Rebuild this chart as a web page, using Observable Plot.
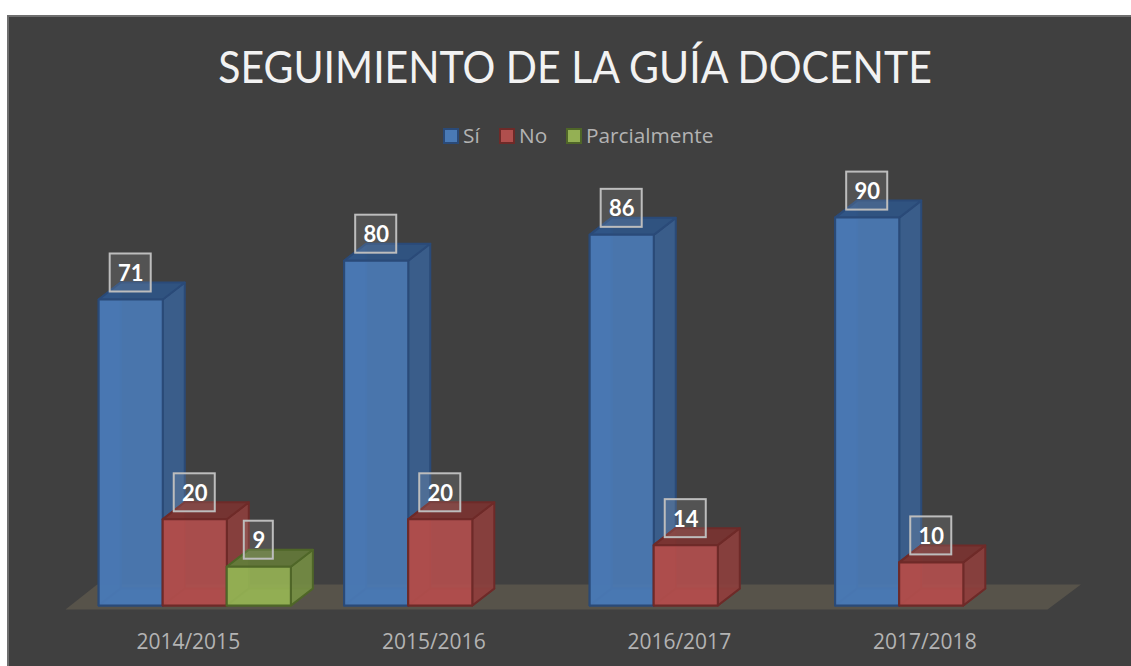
<!DOCTYPE html>
<html lang="es">
<head>
<meta charset="utf-8">
<script src="https://cdn.jsdelivr.net/npm/d3@7"></script>
<script src="https://cdn.jsdelivr.net/npm/@observablehq/plot@0.6"></script>
<style>
html,body{margin:0;padding:0;background:#fff;width:1131px;height:666px;overflow:hidden}
#panel{position:absolute;left:7px;top:15px;width:1124px;height:651px;background:#404040;border-left:2px solid #6f6f6f;border-top:2px solid #6f6f6f;box-sizing:border-box;overflow:hidden}
#title{position:absolute;left:-9px;top:19px;width:1150px;text-align:center;color:#f2f2f2;font:400 41px Lato,sans-serif;line-height:60px;white-space:nowrap;transform:scaleY(1.1);transform-origin:50% 50%}
.sw{position:absolute;top:111px;width:12px;height:12px;border-width:2px;border-style:solid}
.lg{position:absolute;top:105px;color:#b3b3b3;font:400 20.8px "Open Sans",sans-serif;line-height:26px;white-space:nowrap}
#chart{position:absolute;left:-9px;top:131.5px}
</style>
</head>
<body>
<div id="panel">
  <div id="title"></div>
  <div id="legend"></div>
  <div id="chart"></div>
</div>
<script>
const titleText = "SEGUIMIENTO DE LA GUÍA DOCENTE";
const categories = ["2014/2015", "2015/2016", "2016/2017", "2017/2018"];
const si = [71, 80, 86, 90];
const no = [20, 20, 14, 10];
const parcialmente = [9, null, null, null];

const seriesDefs = [
  {name: "Sí", values: si, front: "#4a7ab5", side: "#3a6090", top: "#2f5585", edge: "#2a4a78"},
  {name: "No", values: no, front: "#b04f4d", side: "#8c403d", top: "#7a3432", edge: "#6e2a28"},
  {name: "Parcialmente", values: parcialmente, front: "#94b054", side: "#748c44", top: "#64793a", edge: "#4f6628"}
];
const legendX = [{s: 434, t: 454}, {s: 490, t: 510}, {s: 557, t: 577}];

document.getElementById("title").textContent = titleText;
const legend = document.getElementById("legend");
seriesDefs.forEach((d, i) => {
  const sw = document.createElement("div");
  sw.className = "sw";
  sw.style.cssText = `left:${legendX[i].s}px;background:${d.front};border-color:${d.edge}`;
  const t = document.createElement("div");
  t.className = "lg";
  t.style.left = legendX[i].t + "px";
  t.textContent = d.name;
  legend.append(sw, t);
});

// Scale factors: pixels per data unit, used to express the 3D depth
const pxX = 245.3, pxY = 4.31;
const barW = 64 / pxX, barStart = -89.5 / pxX;
const depthX = 22 / pxX, depthY = 17 / pxY;

const faces = [], labels = [];
let id = 0;
function face(pts, fill, edge) {
  id++;
  pts.forEach(([x, y]) => faces.push({id, x, y, fill, edge}));
}
categories.forEach((c, i) => {
  seriesDefs.forEach((s, k) => {
    const v = s.values[i];
    if (v == null) return;
    const x0 = i + barStart + k * barW, x1 = x0 + barW;
    const dX = depthX, dY = depthY;
    face([[x0, 0], [x0 + dX, dY], [x0 + dX, v + dY], [x0, v]], s.side, s.edge);
    face([[x0, 0], [x1, 0], [x1 + dX, dY], [x0 + dX, dY]], s.side, s.edge);
    face([[x1, 0], [x1 + dX, dY], [x1 + dX, v + dY], [x1, v]], s.side, s.edge);
    face([[x0, v], [x1, v], [x1 + dX, v + dY], [x0 + dX, v + dY]], s.top, s.edge);
    face([[x0, 0], [x1, 0], [x1, v], [x0, v]], s.front, s.edge);
    const halfW = (String(v).length > 1 ? 20.5 : 14.5) / pxX;
    labels.push({x: (x0 + x1) / 2, y: v + 26.5 / pxY, halfW, v});
  });
});

const floor = [[-0.5, -0.93], [3.5, -0.93], [3.636, 4.87], [-0.371, 4.87]].map(([x, y]) => ({x, y}));
const boxHalfH = 19 / pxY;

const plot = Plot.plot({
  width: 1131,
  height: 516,
  marginLeft: 65,
  marginRight: 84,
  marginTop: 25,
  marginBottom: 60,
  style: {background: "transparent", overflow: "visible"},
  x: {domain: [-0.5, 3.5], axis: null},
  y: {domain: [0, 100], axis: null},
  marks: [
    Plot.line(floor, {x: "x", y: "y", fill: "#57534a", stroke: "none", curve: "linear-closed"}),
    Plot.line(faces, {
      x: "x", y: "y", z: "id", fill: "fill", stroke: "edge",
      fillOpacity: 0.93, strokeWidth: 2, strokeLinejoin: "round", curve: "linear-closed"
    }),
    Plot.rect(labels, {
      x1: d => d.x - d.halfW, x2: d => d.x + d.halfW,
      y1: d => d.y - boxHalfH, y2: d => d.y + boxHalfH,
      fill: "#ffffff", fillOpacity: 0.1, stroke: "#bdbdbd", strokeWidth: 2
    }),
    Plot.text(labels, {
      x: "x", y: "y", dy: 1, text: d => String(d.v), fill: "#ffffff",
      fontFamily: "Lato, sans-serif", fontWeight: 700, fontSize: 22
    }),
    Plot.axisX({
      ticks: [0, 1, 2, 3], tickFormat: i => categories[i], tickSize: 0, tickPadding: 29, label: null,
      fill: "#b3b3b3", fontFamily: "'Open Sans', sans-serif", fontSize: 21
    })
  ]
});
document.getElementById("chart").append(plot);
</script>
</body>
</html>
